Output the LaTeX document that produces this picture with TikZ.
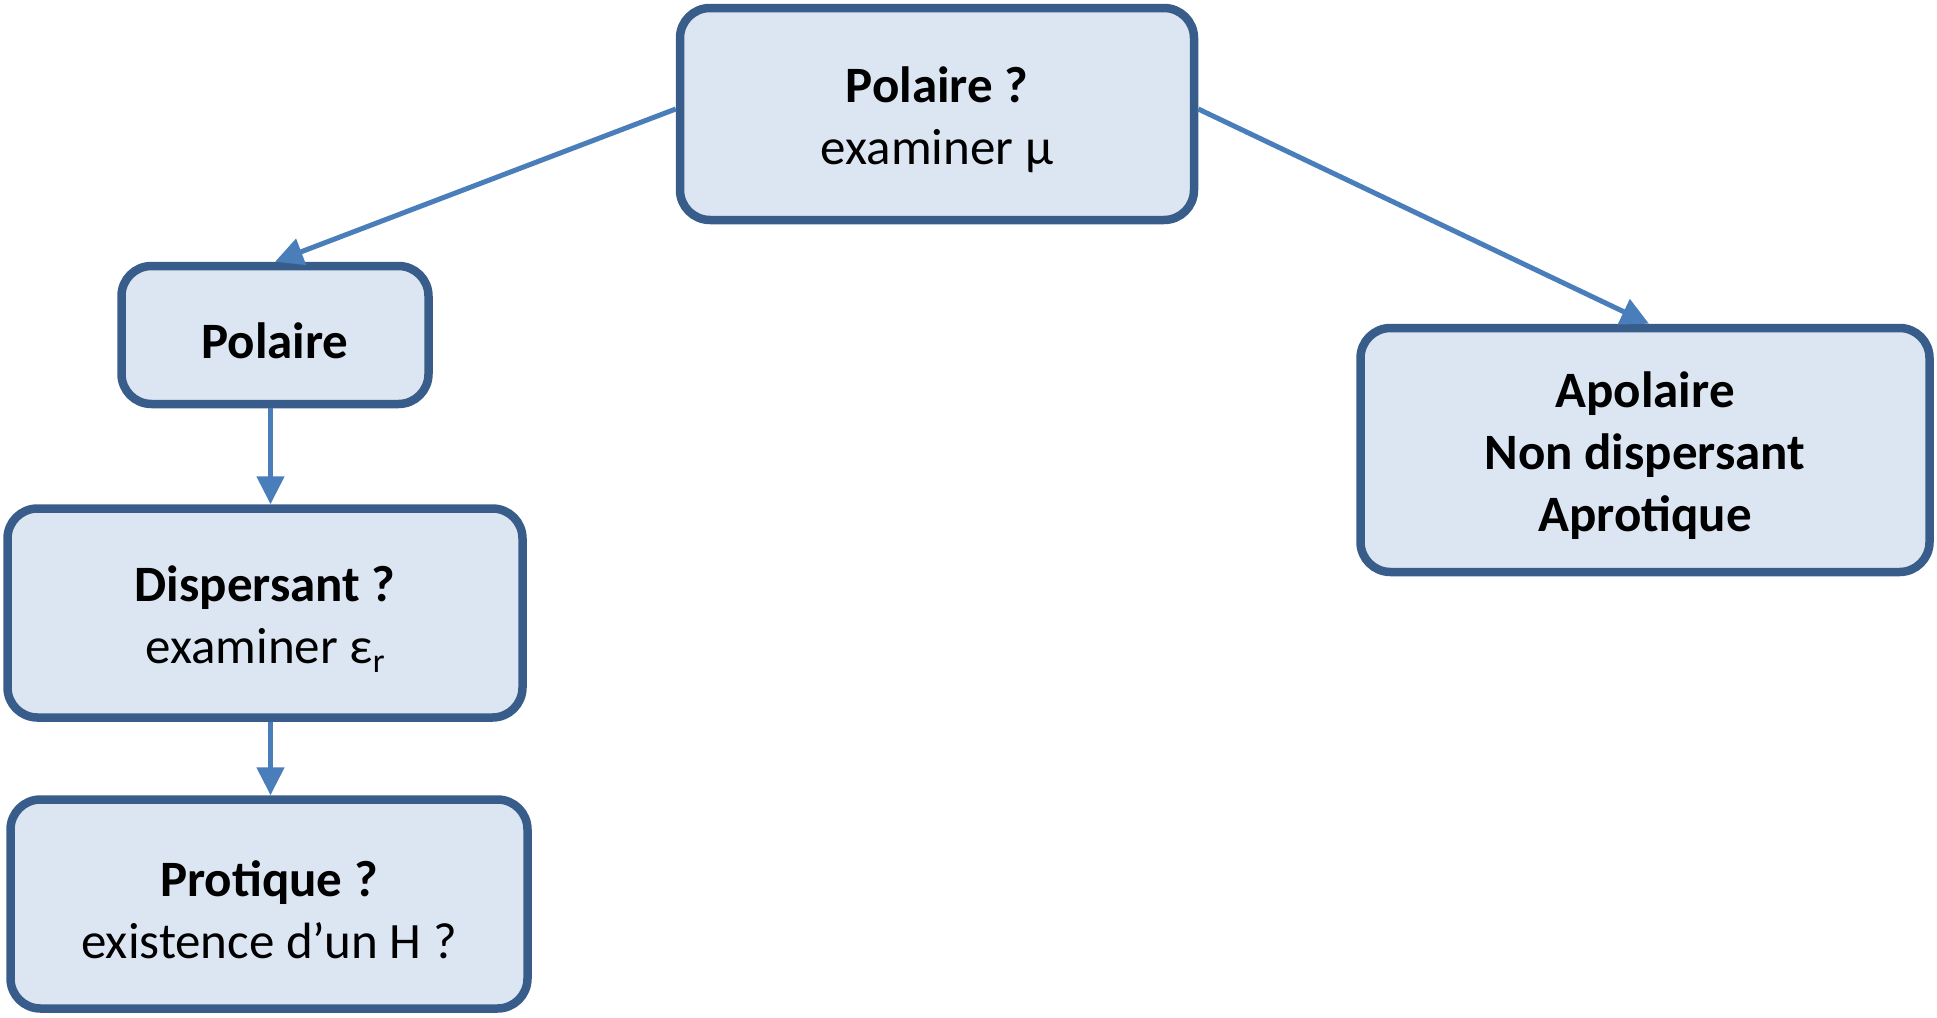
\documentclass[tikz,border=0pt]{standalone}
\usepackage{fontspec}
\setmainfont{Carlito}
\usetikzlibrary{arrows.meta}
\definecolor{boxfill}{HTML}{DCE6F2}
\definecolor{boxline}{HTML}{385D8A}
\definecolor{arrowcol}{HTML}{4A7EBB}
\newcommand{\dn}{\rule{0pt}{47pt}}
\begin{document}
\begin{tikzpicture}[x=1pt,y=-1pt,
  box/.style={draw=boxline, fill=boxfill, line width=8.5pt, rounded corners=30pt,
    align=center, inner sep=0pt, font=\fontsize{51}{62}\selectfont},
  link/.style={draw=arrowcol, line width=5pt, -{Triangle[length=28pt,width=27pt]}}]
\useasboundingbox (0,0) rectangle (1937,1017);
\node[box, minimum width=514pt, minimum height=212pt] (top) at (937,114)
  {\dn\textbf{Polaire ?}\\examiner µ};
\node[box, minimum width=307pt, minimum height=138pt] (pol) at (275,335)
  {\dn\textbf{Polaire}};
\node[box, minimum width=515pt, minimum height=209pt] (disp) at (265,613)
  {\dn\textbf{Dispersant ?}\\examiner ε{\fontsize{34}{34}\selectfont\raisebox{-9pt}{r}}};
\node[box, minimum width=517pt, minimum height=209pt] (prot) at (269,904)
  {\dn\textbf{Protique ?}\\existence d’un H ?};
\node[box, minimum width=569pt, minimum height=244pt] (apo) at (1645,450)
  {\dn\textbf{Apolaire}\\\textbf{Non dispersant}\\\textbf{Aprotique}};
\draw[link] ([yshift=5pt]top.west) -- (pol.north);
\draw[link] ([yshift=5pt]top.east) -- ([xshift=4pt]apo.north);
\draw[link] ([xshift=-4.5pt]pol.south) -- ([xshift=-4.5pt]pol.south |- disp.north);
\draw[link] ([xshift=5.5pt]disp.south) -- ([xshift=5.5pt]disp.south |- prot.north);
\end{tikzpicture}
\end{document}
